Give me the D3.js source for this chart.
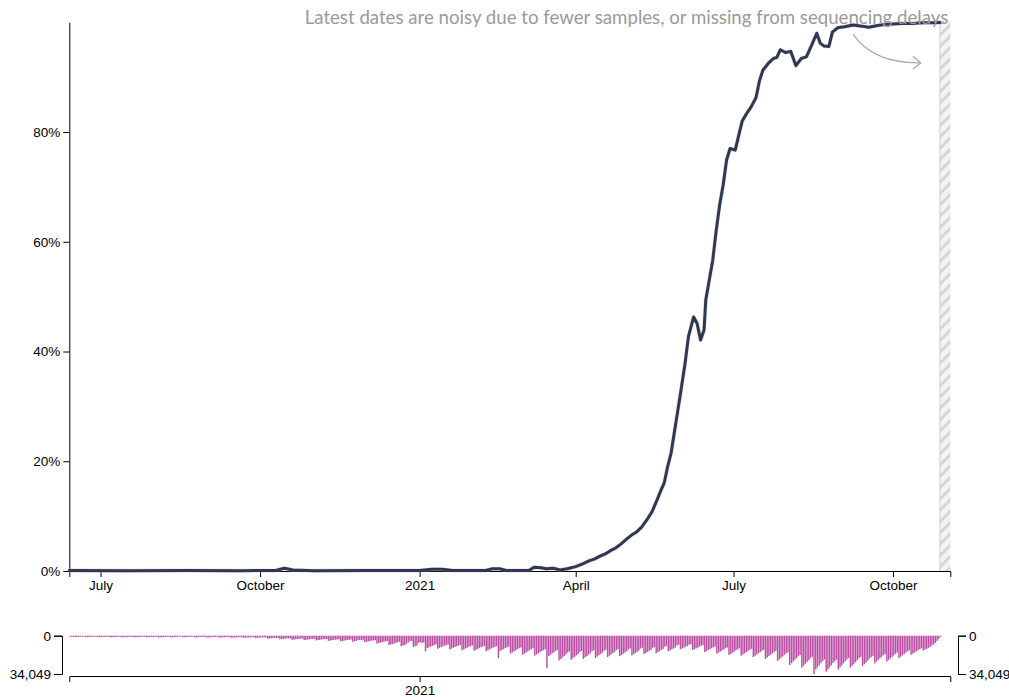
<!DOCTYPE html>
<html><head><meta charset="utf-8">
<script src="https://cdn.jsdelivr.net/npm/d3@7"></script>
<style>
body{margin:0;background:#fff;}
svg{display:block;font-family:"Liberation Sans",Arial,sans-serif;}
</style></head>
<body><svg id="c" width="1009" height="697"></svg>
<script>
// ---------------- DATA ----------------
const domainStart = "2020-06-13";
const domainEnd = "2021-11-03";
const noisyStart = "2021-10-28";
const annotationText = "Latest dates are noisy due to fewer samples, or missing from sequencing delays";
const yTickValues = [0, 0.2, 0.4, 0.6, 0.8];
const countTickValues = [0, 34049];
const barStart = "2020-06-13";

// proportion of lineage (date, fraction)
const lineDates = ["2020-06-13","2020-07-15","2020-08-20","2020-09-20","2020-10-10","2020-10-15","2020-10-20","2020-11-01","2020-12-01","2021-01-01","2021-01-08","2021-01-14","2021-01-20","2021-02-08","2021-02-12","2021-02-16","2021-02-20","2021-03-05","2021-03-08","2021-03-12","2021-03-15","2021-03-19","2021-03-23","2021-03-27","2021-04-01","2021-04-05","2021-04-09","2021-04-12","2021-04-15","2021-04-18","2021-04-21","2021-04-24","2021-04-27","2021-04-30","2021-05-03","2021-05-06","2021-05-09","2021-05-12","2021-05-15","2021-05-18","2021-05-20","2021-05-22","2021-05-24","2021-05-26","2021-05-28","2021-05-30","2021-05-31","2021-06-03","2021-06-05","2021-06-08","2021-06-10","2021-06-12","2021-06-14","2021-06-15","2021-06-17","2021-06-19","2021-06-21","2021-06-23","2021-06-25","2021-06-27","2021-06-29","2021-07-02","2021-07-04","2021-07-06","2021-07-09","2021-07-11","2021-07-14","2021-07-16","2021-07-18","2021-07-21","2021-07-24","2021-07-26","2021-07-28","2021-07-31","2021-08-03","2021-08-06","2021-08-09","2021-08-12","2021-08-15","2021-08-18","2021-08-20","2021-08-22","2021-08-25","2021-08-27","2021-08-30","2021-09-03","2021-09-08","2021-09-13","2021-09-17","2021-09-22","2021-09-26","2021-10-01","2021-10-06","2021-10-12","2021-10-18","2021-10-24","2021-10-28"];
const lineValues = [0.001,0.0005,0.001,0.0005,0.001,0.005,0.002,0.0005,0.001,0.001,0.003,0.003,0.001,0.001,0.004,0.004,0.001,0.001,0.007,0.006,0.004,0.005,0.002,0.004,0.008,0.013,0.019,0.022,0.027,0.031,0.037,0.042,0.049,0.057,0.065,0.071,0.080,0.093,0.108,0.130,0.146,0.160,0.190,0.215,0.255,0.295,0.315,0.377,0.427,0.463,0.451,0.421,0.439,0.494,0.530,0.566,0.620,0.667,0.703,0.749,0.770,0.767,0.794,0.820,0.836,0.845,0.863,0.894,0.913,0.925,0.934,0.936,0.950,0.945,0.947,0.921,0.934,0.937,0.958,0.980,0.962,0.957,0.956,0.982,0.990,0.992,0.995,0.993,0.991,0.994,0.996,0.997,0.998,0.998,0.999,0.999,0.9995];

// daily sequences (thousands), one row per week starting Saturday 2020-06-13
const dailyThousands = [
0.9,0.9,1.3,1.2,1.1,1.1,1.0,
0.9,0.8,1.3,1.2,1.2,1.1,1.0,
0.9,0.9,1.4,1.3,1.2,1.1,1.0,
1.0,1.0,1.5,1.4,1.3,1.2,1.1,
1.0,1.0,1.5,1.4,1.3,1.3,1.1,
1.1,1.0,1.5,1.4,1.4,1.2,1.1,
1.0,1.0,1.5,1.4,1.3,1.2,1.1,
1.1,1.0,1.6,1.5,1.4,1.3,1.2,
1.1,1.0,1.5,1.4,1.3,1.2,1.1,
1.0,0.9,1.4,1.3,1.3,1.2,1.0,
1.0,1.0,1.5,1.4,1.3,1.2,1.1,
1.1,1.0,1.6,1.5,1.4,1.3,1.2,
1.2,1.1,1.7,1.6,1.5,1.4,1.3,
1.2,1.2,1.8,1.7,1.6,1.5,1.4,
1.3,1.2,1.9,1.8,1.7,1.6,1.4,
1.4,1.3,2.0,1.9,1.8,1.6,1.5,
1.6,1.5,2.6,2.4,2.3,2.1,1.9,
2.0,1.9,3.2,3.0,2.8,2.6,2.4,
2.5,2.3,3.6,3.4,3.2,3.0,2.7,
2.7,2.5,3.9,3.7,3.4,3.2,2.9,
2.9,2.7,4.2,4.0,3.7,3.4,3.2,
3.1,2.9,4.6,4.3,4.0,3.8,3.5,
3.4,3.2,5.0,4.7,4.4,4.1,3.8,
3.6,3.4,5.4,5.1,4.7,4.0,3.7,
3.8,3.6,5.8,5.5,5.1,4.8,4.4,
4.2,4.0,7.0,6.6,6.2,5.7,5.3,
5.0,4.7,8.4,7.9,7.4,6.9,6.4,
5.8,5.4,9.4,8.8,8.3,7.2,6.0,
5.0,4.6,10.0,9.4,8.8,6.4,5.8,
6.5,6.0,14.0,11.0,10.4,9.6,9.0,
8.2,7.7,11.6,10.9,10.2,9.5,8.8,
8.4,7.9,12.2,11.5,10.7,10.0,9.3,
8.8,8.2,13.0,12.2,11.4,10.7,9.9,
9.3,8.7,13.4,12.6,11.8,11.0,10.2,
9.6,9.0,13.8,13.0,12.1,11.3,10.5,
9.9,9.3,20.0,13.6,12.8,11.9,11.0,
10.4,9.8,15.8,14.9,13.9,13.0,12.0,
11.2,10.5,17.0,16.0,15.0,14.0,12.9,
12.0,11.2,17.8,16.7,15.7,14.6,13.5,
12.8,12.0,29.0,18.2,17.0,15.8,14.7,
13.6,12.7,22.0,20.7,19.4,18.0,16.7,
14.9,14.0,21.4,20.1,18.8,17.5,16.3,
14.4,13.5,20.6,19.4,18.1,16.9,15.7,
13.8,13.0,19.8,18.6,17.4,16.2,15.0,
13.3,12.5,19.0,17.9,16.7,15.6,14.4,
12.7,11.9,18.2,17.1,16.0,14.9,13.8,
12.1,11.4,17.4,16.4,15.3,14.3,13.2,
11.4,10.7,16.4,15.4,14.4,13.4,12.5,
10.8,10.1,15.4,14.5,13.6,12.6,11.7,
9.8,9.2,13.8,13.0,12.1,11.3,10.5,
8.6,8.0,12.0,11.3,10.6,9.8,9.1,
8.0,7.5,12.8,12.0,11.3,10.5,9.7,
8.9,8.4,14.6,13.7,12.8,12.0,11.1,
10.2,9.6,16.0,15.0,14.1,13.1,12.2,
11.2,10.5,17.2,16.2,15.1,14.1,13.1,
12.0,11.3,17.8,16.7,15.7,14.6,13.5,
12.5,11.7,19.0,17.9,16.7,15.6,14.4,
13.3,12.5,20.6,19.4,18.1,16.9,15.7,
14.4,13.5,22.4,21.1,19.7,18.4,17.0,
15.7,14.8,26.0,24.4,22.9,21.3,19.8,
18.2,17.1,28.4,26.7,25.0,23.3,21.6,
19.9,18.7,34.0,30.0,28.2,26.3,24.4,
22.5,21.1,32.0,30.1,28.2,26.2,24.3,
22.6,21.2,30.0,28.2,26.4,24.6,22.8,
21.1,19.8,28.4,26.7,25.0,23.3,21.6,
20.0,18.8,27.0,25.4,23.8,22.1,20.5,
19.0,17.9,24.6,23.1,21.6,20.2,18.7,
17.3,16.2,23.0,21.6,20.2,18.9,17.5,
16.1,15.1,19.8,18.6,17.4,16.2,15.0,
13.9,13.1,17.0,16.0,15.0,13.9,12.9,
12.0,11.3,13.2,12.4,11.6,10.8,10.0,
8.6,7.8,6.4,4.6,2.8,1.0
];

// ---------------- CHART ----------------
const parse = d3.utcParse("%Y-%m-%d");
const svg = d3.select("#c");
const L = 69.3, R = 950.3, T = 22.3, B = 571;
const bTop = 635.7, bBot = 674, bAxisY = 676;

const x = d3.scaleUtc().domain([parse(domainStart), parse(domainEnd)]).range([L, R]);
const y = d3.scaleLinear().domain([0, 1]).range([B, T]);

const lineData = lineDates.map((d, i) => ({date: parse(d), v: lineValues[i]}));
const t0 = parse(barStart);
const barData = dailyThousands.map((v, i) => ({date: d3.utcDay.offset(t0, i), v: v * 1000}));

// hatch pattern
const defs = svg.append("defs");
const pat = defs.append("pattern").attr("id", "hatch").attr("patternUnits", "userSpaceOnUse")
  .attr("width", 8).attr("height", 8).attr("patternTransform", "rotate(-45)");
pat.append("rect").attr("width", 8).attr("height", 8).attr("fill", "#f3f3f3");
pat.append("rect").attr("width", 8).attr("height", 3).attr("fill", "#d6d6d6");

const xN = x(parse(noisyStart));
svg.append("rect").attr("x", xN).attr("y", T - 2).attr("width", R - xN).attr("height", B - T + 2)
  .attr("fill", "url(#hatch)");
svg.append("line").attr("x1", xN).attr("x2", xN).attr("y1", T - 2).attr("y2", B)
  .attr("stroke", "#cfcfcf").attr("stroke-width", 1);

// axes
const FS = 13.5;
const fontAxis = g => g.selectAll("text").attr("font-size", FS).attr("fill", "#000")
  .attr("font-family", "'Liberation Sans', Arial, sans-serif");
svg.append("g").attr("transform", `translate(0,${B})`)
  .call(d3.axisBottom(x).ticks(d3.utcMonth.every(3)).tickFormat(d => d.getUTCMonth() === 0 ? d3.utcFormat("%Y")(d) : d3.utcFormat("%B")(d)))
  .call(fontAxis).call(g => g.selectAll("line,path").attr("stroke", "#000"));
svg.append("g").attr("transform", `translate(${L},0)`)
  .call(d3.axisLeft(y).tickValues(yTickValues).tickFormat(d3.format(".0%")).tickSizeOuter(0))
  .call(fontAxis).call(g => g.selectAll("line,path").attr("stroke", "#000"));

// line
const line = d3.line().x(d => x(d.date)).y(d => y(d.v)).curve(d3.curveLinear);
svg.append("path").datum(lineData).attr("d", line).attr("fill", "none")
  .attr("stroke", "#d9a6cf").attr("stroke-opacity", 0.35).attr("stroke-width", 4.4).attr("stroke-linejoin", "round");
svg.append("path").datum(lineData).attr("d", line).attr("fill", "none")
  .attr("stroke", "#2c3a4f").attr("stroke-width", 3).attr("stroke-linejoin", "round").attr("stroke-linecap", "round");

// annotation
const ann = svg.append("text").attr("x", R - 2).attr("y", 24).attr("text-anchor", "end")
  .attr("font-family", "Lato, 'Open Sans', sans-serif").attr("font-size", 18).attr("fill", "#9a9a9a")
  .text(annotationText);
const len = ann.node().getComputedTextLength();
ann.attr("font-size", 18 * 644 / len);

// arrow
const ax0 = x(parse("2021-09-08")), ax1 = x(parse("2021-10-17"));
svg.append("path").attr("d", `M${ax0},${y(0.978)} Q${ax0 + 20},${y(0.925)} ${ax1},${y(0.926)}`)
  .attr("fill", "none").attr("stroke", "#aaa").attr("stroke-width", 1.3);
svg.append("path").attr("d", `M${ax1 - 8},${y(0.938)} L${ax1},${y(0.926)} L${ax1 - 8},${y(0.915)}`)
  .attr("fill", "none").attr("stroke", "#aaa").attr("stroke-width", 1.3);

// bottom bars
const yb = d3.scaleLinear().domain([0, 34049]).range([bTop, bBot]);
const step = x(d3.utcDay.offset(t0, 1)) - x(t0);
svg.append("g").selectAll("rect").data(barData).join("rect")
  .attr("x", d => x(d.date)).attr("y", bTop).attr("width", step * 0.82)
  .attr("height", d => yb(d.v) - bTop).attr("fill", "#bb50a6");

svg.append("g").attr("transform", `translate(62,0)`)
  .call(d3.axisLeft(yb).tickValues(countTickValues).tickFormat(d3.format(",")).tickSize(8).tickSizeOuter(8))
  .call(fontAxis).call(g => g.selectAll("line,path").attr("stroke", "#000"));
svg.append("g").attr("transform", `translate(958,0)`)
  .call(d3.axisRight(yb).tickValues(countTickValues).tickFormat(d3.format(",")).tickSize(8).tickSizeOuter(8))
  .call(fontAxis).call(g => g.selectAll("line,path").attr("stroke", "#000"));
svg.append("g").attr("transform", `translate(0,${bAxisY})`)
  .call(d3.axisBottom(x).ticks(d3.utcYear.every(1)).tickFormat(d3.utcFormat("%Y")))
  .call(fontAxis).call(g => g.selectAll("line,path").attr("stroke", "#000"));
</script></body></html>
